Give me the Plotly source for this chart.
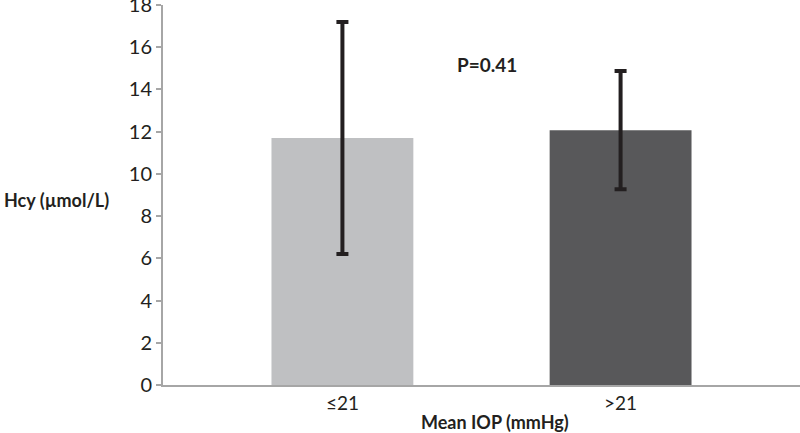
import plotly.graph_objects as go

categories = ["≤21", ">21"]
means = [11.7, 12.07]
sds = [5.5, 2.8]
bar_colors = ["#bfc0c2", "#58585a"]
y_ticks = [0, 2, 4, 6, 8, 10, 12, 14, 16, 18]
p_label = "P=0.41"

FONT = "Lato, 'Open Sans', sans-serif"

L, R, T, B = 163, 0, 5, 48
W, H = 800, 433
pw = W - L - R
ph = H - T - B

fig = go.Figure()
fig.add_trace(go.Bar(
    x=[0, 1], y=means,
    marker=dict(color=bar_colors, line=dict(width=0)),
    width=0.51,
    error_y=dict(type="data", array=sds, visible=True, color="#231f20", thickness=4, width=6),
    showlegend=False,
    hoverinfo="skip",
))

fig.update_layout(
    template="none",
    width=W, height=H,
    margin=dict(l=L, r=R, t=T, b=B, autoexpand=False),
    paper_bgcolor="white", plot_bgcolor="white",
    font=dict(family=FONT, size=18, color="#231f20"),
    xaxis=dict(range=[-0.645, 1.645], tickvals=[0, 1], ticktext=categories,
               showline=True, linecolor="#a6a6a6", linewidth=2, showgrid=False,
               zeroline=False, ticks="", tickfont=dict(size=19), automargin=False),
    yaxis=dict(range=[0, 18], tickvals=y_ticks, showline=True, linecolor="#a6a6a6",
               linewidth=2, showgrid=False, zeroline=False, ticks="outside",
               ticklen=5, tickcolor="#a6a6a6", tickwidth=2, tickfont=dict(size=20),
               automargin=False, ticklabeloverflow="allow"),
    annotations=[
        dict(x=0.52, y=15.2, xref="x", yref="y", text="<b>" + p_label + "</b>",
             showarrow=False, font=dict(size=19, family=FONT)),
        dict(x=(56 - L) / pw, y=(H - B - 200) / ph, xref="paper", yref="paper",
             text="<b>Hcy (µmol/L)</b>", showarrow=False, xanchor="center", yanchor="middle",
             font=dict(size=18, family=FONT)),
        dict(x=(495 - L) / pw, y=(H - B - 422) / ph, xref="paper", yref="paper",
             text="<b>Mean IOP (mmHg)</b>", showarrow=False, xanchor="center", yanchor="middle",
             font=dict(size=18, family=FONT)),
    ],
)

fig.write_html("out.html", config={"displayModeBar": False},
               post_script="document.body.style.margin='0px';document.body.style.overflow='hidden';")
